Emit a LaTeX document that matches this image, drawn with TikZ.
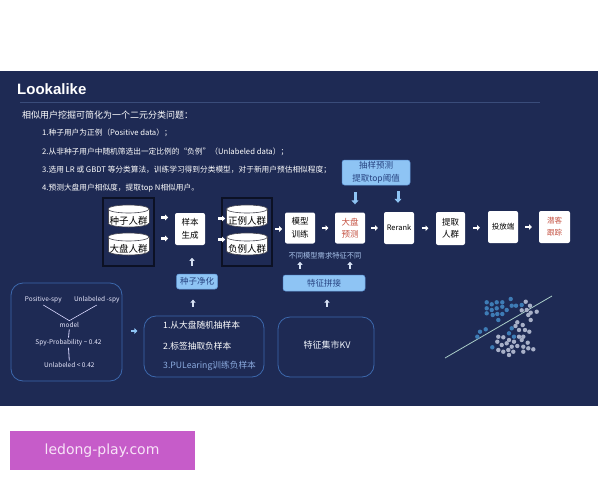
\documentclass[tikz,border=0pt]{standalone}
\usepackage{fontspec}
\setmainfont{Noto Sans CJK SC}
\newfontfamily\titlefont{Liberation Sans}
\newfontfamily\wmfont{DejaVu Sans}
\usetikzlibrary{arrows.meta,calc}
\definecolor{navy}{RGB}{30,42,84}
\definecolor{rulec}{RGB}{58,76,122}
\definecolor{grpdark}{RGB}{12,17,36}
\definecolor{cylline}{RGB}{70,70,80}
\definecolor{lblue}{RGB}{142,196,244}
\definecolor{lbdraw}{RGB}{95,150,215}
\definecolor{lbtext}{RGB}{38,66,128}
\definecolor{outl}{RGB}{60,104,172}
\definecolor{redtxt}{RGB}{196,80,64}
\definecolor{paletxt}{RGB}{168,194,234}
\definecolor{ptxt}{RGB}{140,172,224}
\definecolor{uparr}{RGB}{214,224,242}
\definecolor{dotblue}{RGB}{62,124,182}
\definecolor{dotgrey}{RGB}{168,176,200}
\definecolor{sepline}{RGB}{170,205,200}
\definecolor{wmbg}{RGB}{198,92,201}
\definecolor{wmtxt}{RGB}{248,228,248}
\newcommand\mycyl[4]{%
  \filldraw[fill=white,draw=cylline,line width=0.6pt] (#1,#2+7) ellipse[x radius=20.5pt,y radius=4pt];
  \fill[white] (#1-20.5,#2-7) rectangle (#1+20.5,#2+7);
  \draw[cylline,line width=0.6pt] (#1-20.5,#2-7) -- (#1-20.5,#2+7) (#1+20.5,#2-7) -- (#1+20.5,#2+7);
  \filldraw[fill=white,draw=cylline,line width=0.6pt] (#1,#2-7) ellipse[x radius=20.5pt,y radius=4pt];
  \node[cyltext] (#3) at (#1,#2+5) {#4};
}
\begin{document}
\begin{tikzpicture}[x=1pt,y=-1pt,
  wbox/.style={fill=white, rounded corners=2pt, minimum width=30pt, minimum height=31pt, inner sep=0pt, align=center, font=\fontsize{8.5}{12.5}\selectfont, text=black},
  lbbox/.style={fill=lblue, draw=lbdraw, line width=0.5pt, rounded corners=2.5pt, inner sep=0pt, align=center, text=lbtext, font=\fontsize{8.5}{13.5}\selectfont},
  obox/.style={draw=outl, line width=0.8pt, rounded corners=12pt, inner sep=0pt},
  grp/.style={draw=grpdark, line width=1.2pt, inner sep=0pt},
  cyltext/.style={inner sep=0pt, font=\fontsize{9.5}{10}\selectfont, text=black},
  farr/.style={line width=2.2pt, white, -{Triangle[length=3pt,width=5.5pt]}},
  uarr/.style={line width=2pt, uparr, -{Triangle[length=3pt,width=5pt]}},
  darr/.style={line width=3pt, lblue, -{Triangle[length=4pt,width=7pt]}},
  lbarr/.style={line width=2.2pt, lblue, -{Triangle[length=3pt,width=5.5pt]}},
  txt/.style={inner sep=0pt, anchor=west, text=white, font=\fontsize{7.7}{9}\selectfont},
  spy/.style={inner sep=1.5pt, text=white!92!blue, font=\fontsize{6.5}{7}\selectfont},
  dot/.style={radius=2.2pt}
]
\useasboundingbox (0,0) rectangle (600,480);
\fill[white] (0,0) rectangle (600,480);
\fill[navy] (0,71) rectangle (598,406);

% title
\node[inner sep=0pt, anchor=west, text=white, font=\titlefont\bfseries\fontsize{15}{16}\selectfont] (title) at (17,89) {Lookalike};
\coordinate (rl) at (20,102);
\coordinate (rr) at (540,102);
\draw[rulec, line width=0.8pt] (rl) -- (rr);

% intro texts
\node[txt, font=\fontsize{9}{10}\selectfont] (h0) at (22,115) {相似用户挖掘可简化为一个二元分类问题：};
\node[txt] (t1) at (42,133) {1.种子用户为正例（Positive data）；};
\node[txt] (t2) at (42,152) {2.从非种子用户中随机筛选出一定比例的“负例”（Unlabeled data）；};
\node[txt] (t3) at (42,170) {3.选用 LR 或 GBDT 等分类算法，训练学习得到分类模型，对于新用户预估相似程度；};
\node[txt] (t4) at (42,188) {4.预测大盘用户相似度，提取top N相似用户。};

% group 1
\node[grp, minimum width=51pt, minimum height=68pt] (g1) at (128.5,232) {};
\mycyl{128.5}{216}{zz}{种子人群}
\mycyl{128.5}{244}{dpr}{大盘人群}
% sample generation
\node[wbox, minimum height=32pt] (yb) at (190,229) {样本\\生成};
% group 2
\node[grp, minimum width=50pt, minimum height=68pt] (g2) at (247,232) {};
\mycyl{247}{216}{zl}{正例人群}
\mycyl{247}{244}{fl}{负例人群}

% pipeline boxes
\node[wbox] (mx) at (300,228) {模型\\训练};
\node[wbox, text=redtxt] (dp) at (350,228) {大盘\\预测};
\node[wbox, minimum height=32pt, font=\fontsize{7.5}{9}\selectfont] (rk) at (399,228) {Rerank};
\node[wbox, minimum width=29pt, minimum height=33pt] (tq) at (450.5,228.5) {提取\\人群};
\node[wbox, minimum height=32pt, font=\fontsize{7.5}{9}\selectfont] (tf) at (503,227) {投放端};
\node[wbox, minimum width=31pt, minimum height=32pt, text=redtxt, font=\fontsize{7.5}{12}\selectfont] (qk) at (554.5,227) {潜客\\跟踪};

% light blue boxes
\node[lbbox, minimum width=68pt, minimum height=25pt] (cy) at (376,172.5) {抽样预测\\提取top阈值};
\node[lbbox, minimum width=41pt, minimum height=15pt] (zj) at (197,281.5) {种子净化};
\node[lbbox, minimum width=82pt, minimum height=16pt] (tz) at (324,283) {特征拼接};
\node[inner sep=0pt, text=paletxt, font=\fontsize{7.3}{9}\selectfont] (bt) at (325,256) {不同模型需求特征不同};

% flow arrows
\draw[farr] ($(g1.east)!0.5!(yb.west)+(-3.5,-13)$) -- ++(7,0);
\draw[farr] ($(g1.east)!0.5!(yb.west)+(-3.5,8)$) -- ++(7,0);
\draw[farr] ($(yb.west)!0.5!(g2.west)+(20,-12)$) -- ++(7,0);
\draw[farr] ($(yb.west)!0.5!(g2.west)+(20,9)$) -- ++(7,0);
\draw[farr] ($(g2.east)!0.5!(mx.west)+(-3.5,-1)$) -- ++(7,0);
\draw[farr] ($(mx.east)!0.5!(dp.west)+(-3.5,0)$) -- ++(7,0);
\draw[farr] ($(dp.east)!0.5!(rk.west)+(-3.5,0)$) -- ++(7,0);
\draw[farr] ($(rk.east)!0.5!(tq.west)+(-3.5,0)$) -- ++(7,0);
\draw[farr] ($(tq.east)!0.5!(tf.west)+(-3.5,0)$) -- ++(7,0);
\draw[farr] ($(tf.east)!0.5!(qk.west)+(-3.5,0)$) -- ++(7,0);

% down arrows from cy
\draw[darr] ([xshift=5pt,yshift=20pt]dp.north) -- ([xshift=5pt,yshift=8pt]dp.north);
\draw[darr] ([xshift=-1pt,yshift=21pt]rk.north) -- ([xshift=-1pt,yshift=9pt]rk.north);

% bottom boxes
\node[obox, minimum width=111pt, minimum height=98pt] (lb) at (66.5,332) {};
\node[obox, minimum width=120pt, minimum height=61pt] (mb) at (204,346.5) {};
\node[obox, minimum width=96pt, minimum height=60pt] (kv) at (326,347) {};

% left box content
\node[spy] (ps) at (43.3,300) {Positive-spy};
\node[spy] (us) at (96.7,300) {Unlabeled -spy};
\node[spy] (md) at (69.3,325) {model};
\node[spy] (sp) at (68.5,342.7) {Spy-Probability \textasciitilde{} 0.42};
\node[spy] (ul) at (69.3,365) {Unlabeled < 0.42};
\draw[white!85!blue, line width=0.6pt] (ps.south) -- (md.north) -- (us.south);
\draw[white!85!blue, line width=0.8pt] (md.south) -- (sp.north);
\draw[white!85!blue, line width=0.8pt] (sp.south) -- (ul.north);

% middle box content
\node[txt, font=\fontsize{8.7}{10}\selectfont] (m1) at (163,325) {1.从大盘随机抽样本};
\node[txt, font=\fontsize{8.7}{10}\selectfont] (m2) at (163,346) {2.标签抽取负样本};
\node[txt, text=ptxt, font=\fontsize{8.7}{10}\selectfont] (m3) at (163,366) {3.PULearing训练负样本};
% kv content
\node[inner sep=0pt, text=white!80!paletxt, font=\fontsize{9}{10}\selectfont] (kvt) at (327,345) {特征集市KV};

% up arrows
\draw[uarr] ([xshift=-5pt,yshift=8pt]zj.north) -- ([xshift=-5pt,yshift=16pt]zj.north);
\draw[uarr] ([xshift=-11pt,yshift=9pt]mb.north) -- ([xshift=-11pt,yshift=16pt]mb.north);
\draw[uarr] ([xshift=-24pt,yshift=6pt]tz.north) -- ([xshift=-24pt,yshift=13pt]tz.north);
\draw[uarr] ([xshift=26pt,yshift=6pt]tz.north) -- ([xshift=26pt,yshift=13pt]tz.north);
\draw[uarr] ([xshift=1pt,yshift=10pt]kv.north) -- ([xshift=1pt,yshift=17pt]kv.north);
\draw[lbarr] ([xshift=9pt,yshift=1pt]lb.east) -- ([xshift=15pt,yshift=1pt]lb.east);

% scatter
\coordinate (s1) at (445,358);
\coordinate (s2) at (552,296);
\draw[sepline, line width=0.8pt] (s1) -- (s2);
\foreach \p in {(486.7,302.3),(491.7,304.3),(496.7,302.3),(502.3,302.3),(510.7,299),(486.7,308.3),(491.7,310),(496.7,308.3),(502.3,306.7),(506.7,310),(511.7,305.7),(516,305.7),(486.7,313.3),(492.7,315),(497.3,314),(502.3,314),(498.3,320),(480,331.7),(477.3,336.7),(485.7,329.3),(511.7,328.3),(509,333.3),(514,336.7),(492.3,347.3),(521.7,305)}
  \fill[dotblue] \p circle[dot];
\foreach \p in {(525.7,301.7),(530,305.7),(521.7,310.3),(526.7,310),(530.7,312.7),(536.7,311.7),(528.3,315),(530.7,320),(517.3,322.3),(522.7,325),(515.5,326),(519,330),(525,330),(529.3,331.7),(519,336.7),(523.3,336.7),(498.3,336.7),(503.3,337.3),(509,340),(514,341.7),(521.7,340),(527.7,342.7),(497.3,341.7),(501.7,345),(506.7,343.3),(511.7,346.7),(517.3,346),(523.3,346.7),(528.3,348.3),(533.3,349.3),(498.3,350),(503.3,351.7),(508.3,350),(513.3,351.7),(509,355),(523.3,351.7)}
  \fill[dotgrey] \p circle[dot];

% watermark
\node[fill=wmbg, minimum width=185pt, minimum height=39pt, inner sep=0pt] (wm) at (102.5,450.5) {};
\node[inner sep=0pt, text=wmtxt, font=\wmfont\fontsize{14}{16}\selectfont] (wmt) at (102,451) {ledong-play.com};
\end{tikzpicture}
\end{document}
